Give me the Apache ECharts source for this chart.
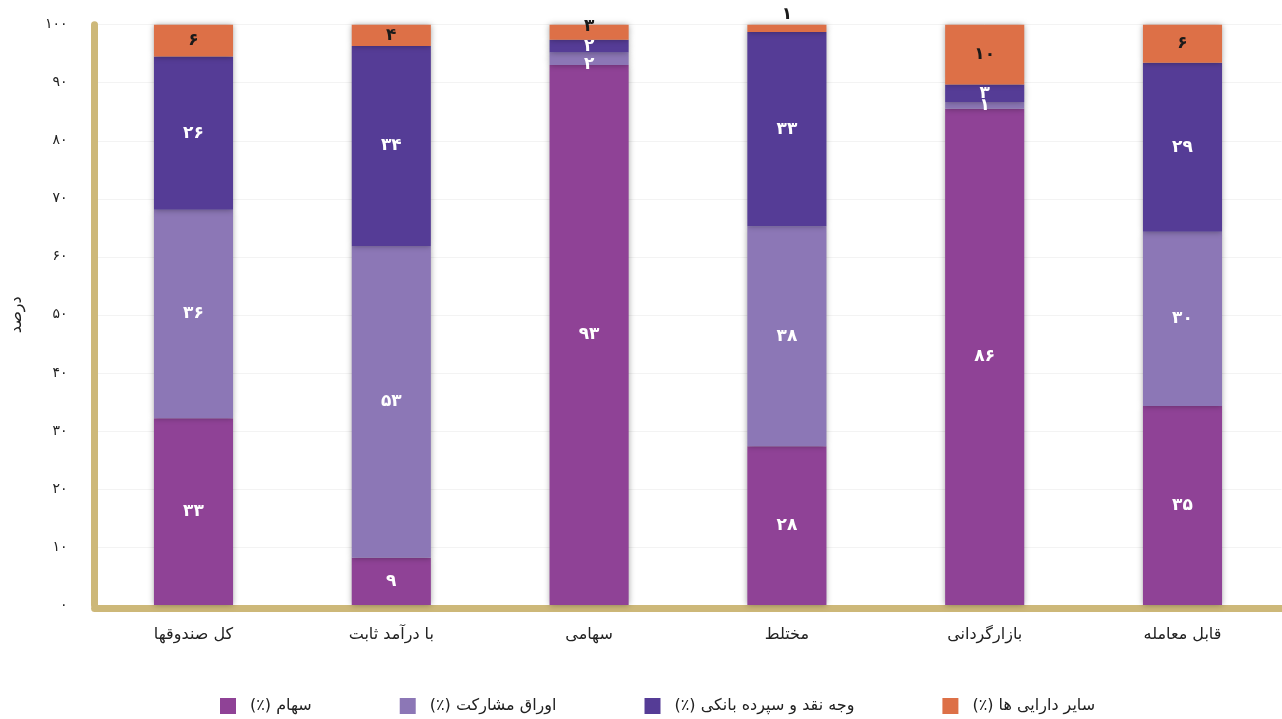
<!DOCTYPE html>
<html>
<head>
<meta charset="utf-8">
<script src="https://cdn.jsdelivr.net/npm/echarts@6/dist/echarts.min.js"></script>
<style>
html,body{margin:0;padding:0;background:#fff;}
#chart{width:1282px;height:719px;direction:rtl;}
</style>
</head>
<body>
<div id="chart"></div>
<script>
// ---- data ----
const categories = ['کل صندوقها', 'با درآمد ثابت', 'سهامی', 'مختلط', 'بازارگردانی', 'قابل معامله'];
const seriesNames = ['سهام (٪)', 'اوراق مشارکت (٪)', 'وجه نقد و سپرده بانکی (٪)', 'سایر دارایی ها (٪)'];
const stockValues = [32.2, 8.15, 93.05, 27.35, 85.5, 34.3];
const bondValues = [35.9, 53.7, 2.15, 37.9, 1.2, 30.0];
const cashValues = [26.4, 34.5, 2.2, 33.5, 3.0, 29.15];
const otherValues = [5.5, 3.65, 2.6, 1.25, 10.3, 6.55];
const stockLabels = [33, 9, 93, 28, 86, 35];
const bondLabels = [36, 53, 2, 38, 1, 30];
const cashLabels = [26, 34, 2, 33, 3, 29];
const otherLabels = [6, 4, 3, 1, 10, 6];
const yTicks = [0, 100, 10]; // min, max, interval

// ---- styling ----
const colors = ['#8F4296', '#8C77B6', '#553C96', '#DD7047'];
const labelColors = ['#ffffff', '#ffffff', '#ffffff', '#1a1a1a'];
const labelTweaks = {
  '3-3': {position: 'top', distance: 2},
  '3-2': {offset: [0, -6]},
  '2-2': {offset: [0, 0]},
  '1-2': {offset: [0, 6]}
};
const FONT = "'DejaVu Sans', 'Noto Sans', sans-serif";

function toFa(n) {
  return String(n).replace(/[0-9]/g, d => '۰۱۲۳۴۵۶۷۸۹'[d]);
}

const allValues = [stockValues, bondValues, cashValues, otherValues];
const allLabels = [stockLabels, bondLabels, cashLabels, otherLabels];

const series = allValues.map((vals, si) => ({
  name: seriesNames[si],
  type: 'bar',
  stack: 'total',
  barWidth: '40%',
  itemStyle: {
    color: colors[si],
    shadowColor: 'rgba(0,0,0,0.35)',
    shadowBlur: 6
  },
  label: {
    show: true,
    position: 'inside',
    color: labelColors[si],
    fontFamily: FONT,
    fontSize: 17,
    fontWeight: 'bold',
    formatter: p => toFa(allLabels[si][p.dataIndex])
  },
  data: vals.map((v, di) => {
    const t = labelTweaks[si + '-' + di];
    return t ? {value: v, label: t} : v;
  })
}));

const chart = echarts.init(document.getElementById('chart'));
chart.setOption({
  animation: false,
  textStyle: {fontFamily: FONT},
  grid: {left: 94.6, right: 0.6, top: 24.7, bottom: 114, containLabel: false, outerBoundsMode: 'none'},
  legend: {
    bottom: 0,
    left: 215,
    align: 'left',
    itemWidth: 16,
    itemHeight: 16,
    itemGap: 88,
    icon: 'rect',
    textStyle: {fontSize: 16, color: '#222', fontFamily: FONT, padding: [0, 0, 0, 9]},
    data: seriesNames
  },
  xAxis: {
    type: 'category',
    data: categories,
    offset: 3.5,
    axisLine: {onZero: false, lineStyle: {color: '#CDB879', width: 7, cap: 'round'}},
    axisTick: {show: false},
    axisLabel: {color: '#222', fontSize: 16, margin: 18, fontFamily: FONT}
  },
  yAxis: {
    type: 'value',
    min: yTicks[0],
    max: yTicks[1],
    interval: yTicks[2],
    name: 'درصد',
    nameLocation: 'middle',
    nameRotate: 90,
    nameGap: 70,
    nameTextStyle: {color: '#222', fontSize: 16, fontFamily: FONT},
    axisLine: {show: true, lineStyle: {color: '#CDB879', width: 7, cap: 'round'}},
    axisTick: {show: false},
    splitLine: {show: true, lineStyle: {color: '#f3f3f3', width: 1}},
    axisLabel: {color: '#222', fontSize: 14, margin: 27, fontFamily: FONT, formatter: v => toFa(v)}
  },
  series: series
});
</script>
</body>
</html>
